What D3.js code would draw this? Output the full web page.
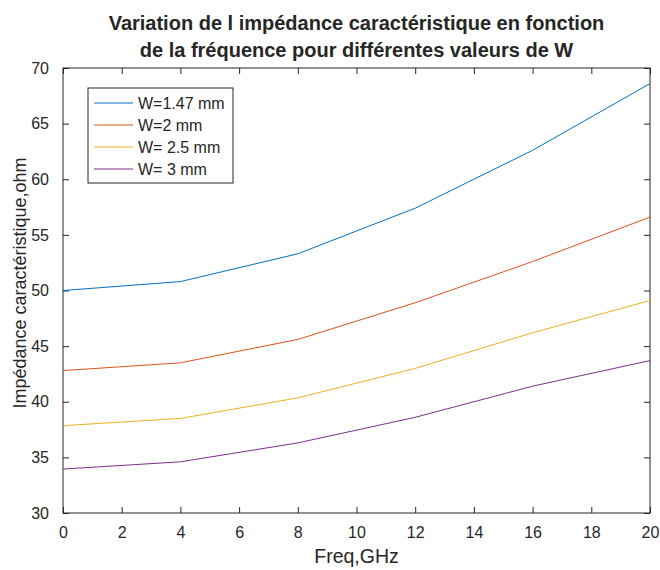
<!DOCTYPE html>
<html>
<head>
<meta charset="utf-8">
<title>Impédance caractéristique</title>
<script src="https://d3js.org/d3.v7.min.js"></script>
<style>
  body { margin: 0; background: #fff; }
  svg text { font-family: "Liberation Sans", Arial, sans-serif; fill: #262626; }
</style>
</head>
<body>
<script>
// data
const freq = [0, 4, 8, 12, 16, 20];
const seriesNames = ["W=1.47 mm", "W=2 mm", "W= 2.5 mm", "W= 3 mm"];
const w147 = [50.0, 50.8, 53.3, 57.4, 62.6, 68.6];
const w2 = [42.8, 43.5, 45.6, 48.9, 52.6, 56.6];
const w25 = [37.85, 38.5, 40.35, 43.0, 46.2, 49.1];
const w3 = [33.95, 34.6, 36.3, 38.6, 41.4, 43.7];
const colors = ["#0072BD", "#D95319", "#EDB120", "#7E2F8E"];
const xTicks = [0, 2, 4, 6, 8, 10, 12, 14, 16, 18, 20];
const yTicks = [30, 35, 40, 45, 50, 55, 60, 65, 70];

const WIDTH = 660, HEIGHT = 570;
const margin = {top: 68, right: 10, bottom: 57, left: 63};
const width = WIDTH - margin.left - margin.right;
const height = HEIGHT - margin.top - margin.bottom;

const svg = d3.select("body").append("svg")
    .attr("width", WIDTH)
    .attr("height", HEIGHT);

const x = d3.scaleLinear().domain([0, 20]).range([0, width]);
const y = d3.scaleLinear().domain([30, 70]).range([height, 0]);

const g = svg.append("g")
    .attr("transform", "translate(" + margin.left + "," + margin.top + ")");

// axes, ticks point inward like matlab
function styleAxis(sel) {
    sel.select(".domain").remove();
    sel.selectAll("line").attr("stroke", "#262626");
    sel.selectAll("text").style("font-size", "16px").attr("fill", "#262626");
}

g.append("g")
    .attr("transform", "translate(0," + height + ")")
    .call(d3.axisBottom(x).tickValues(xTicks).tickSize(-6).tickPadding(14))
    .call(styleAxis);
g.append("g")
    .call(d3.axisTop(x).tickValues(xTicks).tickSize(-6).tickFormat(""))
    .call(styleAxis);
g.append("g")
    .call(d3.axisLeft(y).tickValues(yTicks).tickSize(-6).tickPadding(14))
    .call(styleAxis);
g.append("g")
    .attr("transform", "translate(" + width + ",0)")
    .call(d3.axisRight(y).tickValues(yTicks).tickSize(-6).tickFormat(""))
    .call(styleAxis);

g.append("rect")
    .attr("width", width)
    .attr("height", height)
    .attr("fill", "none")
    .attr("stroke", "#262626")
    .attr("stroke-width", 1);

// lines
const allSeries = [w147, w2, w25, w3];
const line = d3.line()
    .x((d, i) => x(freq[i]))
    .y(d => y(d));

g.selectAll(".serie")
    .data(allSeries)
    .enter()
    .append("path")
    .attr("class", "serie")
    .attr("d", d => line(d))
    .attr("fill", "none")
    .attr("stroke", (d, i) => colors[i])
    .attr("stroke-width", 1);

// legend
const legend = g.append("g").attr("transform", "translate(25,20)");
legend.append("rect")
    .attr("width", 145)
    .attr("height", 95)
    .attr("fill", "#fff")
    .attr("stroke", "#262626")
    .attr("stroke-width", 1);
const items = legend.selectAll(".item")
    .data(seriesNames)
    .enter()
    .append("g")
    .attr("class", "item")
    .attr("transform", (d, i) => "translate(0," + (15 + i * 22) + ")");
items.append("line")
    .attr("x1", 6).attr("x2", 45)
    .attr("stroke", (d, i) => colors[i])
    .attr("stroke-width", 1);
items.append("text")
    .attr("x", 50)
    .attr("dy", "0.35em")
    .style("font-size", "16px")
    .attr("fill", "#000")
    .text(d => d);

// title and axis labels
const title = svg.append("text")
    .attr("x", margin.left + width / 2)
    .attr("text-anchor", "middle")
    .style("font-size", "20px")
    .style("font-weight", "bold")
    .attr("fill", "#000");
title.append("tspan").attr("x", margin.left + width / 2).attr("y", 30)
    .text("Variation de l impédance caractéristique en fonction");
title.append("tspan").attr("x", margin.left + width / 2).attr("y", 57)
    .text("de la fréquence pour différentes valeurs de W");

svg.append("text")
    .attr("x", margin.left + width / 2)
    .attr("y", 563)
    .attr("text-anchor", "middle")
    .style("font-size", "19.5px")
    .text("Freq,GHz");

svg.append("text")
    .attr("transform", "translate(26,283) rotate(-90)")
    .attr("text-anchor", "middle")
    .style("font-size", "18px")
    .text("Impédance caractéristique,ohm");
</script>
</body>
</html>
